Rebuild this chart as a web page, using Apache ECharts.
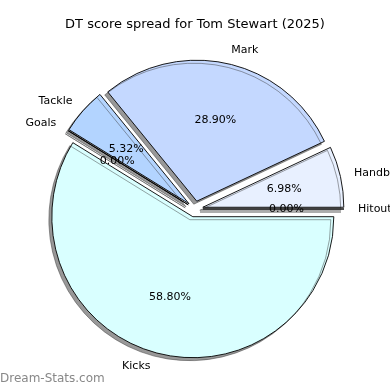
<!DOCTYPE html>
<html>
<head>
<meta charset="utf-8">
<script src="https://cdn.jsdelivr.net/npm/echarts@6/dist/echarts.min.js"></script>
<style>html,body{margin:0;padding:0;background:#fff;}#c{width:390px;height:390px;}</style>
</head>
<body>
<div id="c"></div>
<script>
var categories = ['Hitouts', 'Handball', 'Mark', 'Tackle', 'Goals', 'Kicks'];
var percents = [0.00, 6.98, 28.90, 5.32, 0.00, 58.80];
var colors = ['#dde6ff', '#e8f0ff', '#c4d8ff', '#b3d4ff', '#cce0ff', '#d9ffff'];
var titleText = 'DT score spread for Tom Stewart (2025)';
var watermark = 'Dream-Stats.com';

var FONT = 'DejaVu Sans';
var R = 141;
var CX = 195, CY = 209;

function buildData(transparent) {
  return categories.map(function (c, i) {
    return {
      name: c,
      value: percents[i],
      selected: true,
      itemStyle: transparent ? { color: 'rgba(0,0,0,0)', borderWidth: 0 } : { color: colors[i] }
    };
  });
}

var chart = echarts.init(document.getElementById('c'), null, { renderer: 'canvas' });
chart.setOption({
  animation: false,
  backgroundColor: '#ffffff',
  title: [
    { text: titleText, left: 'center', top: 18, padding: 0,
      textStyle: { fontFamily: FONT, fontSize: 13, fontWeight: 'normal', color: '#000' } },
    { text: watermark, left: 0, top: 373, padding: 0,
      textStyle: { fontFamily: FONT, fontSize: 12, fontWeight: 'normal', color: '#888888' } }
  ],
  series: [
    {
      type: 'pie',
      center: [CX, CY],
      radius: [0, R],
      startAngle: 0,
      clockwise: false,
      avoidLabelOverlap: false,
      stillShowZeroSum: true,
      selectedMode: 'multiple',
      selectedOffset: 8,
      silent: true,
      itemStyle: {
        borderColor: '#000', borderWidth: 0.9,
        shadowColor: 'rgba(50,50,50,0.5)', shadowOffsetX: -3, shadowOffsetY: 3, shadowBlur: 0
      },
      label: {
        show: true, position: 'outside', formatter: '{b}',
        fontFamily: FONT, fontSize: 11, color: '#000', distanceToLabelLine: 0,
        padding: [4, 0, 0, 0]
      },
      labelLine: { show: false, length: 14, length2: 0 },
      emphasis: { disabled: true },
      data: buildData(false)
    },
    {
      type: 'pie',
      center: [CX, CY],
      radius: [20, R],
      startAngle: 0,
      clockwise: false,
      avoidLabelOverlap: false,
      stillShowZeroSum: true,
      selectedMode: 'multiple',
      selectedOffset: 8,
      silent: true,
      itemStyle: { color: 'rgba(0,0,0,0)', borderWidth: 0 },
      label: {
        show: true, position: 'inside',
        formatter: function (p) { return p.value.toFixed(2) + '%'; },
        fontFamily: FONT, fontSize: 11, color: '#000',
        padding: [4, 0, 0, 0]
      },
      labelLine: { show: false },
      emphasis: { disabled: true },
      data: buildData(true)
    }
  ]
});
</script>
</body>
</html>
